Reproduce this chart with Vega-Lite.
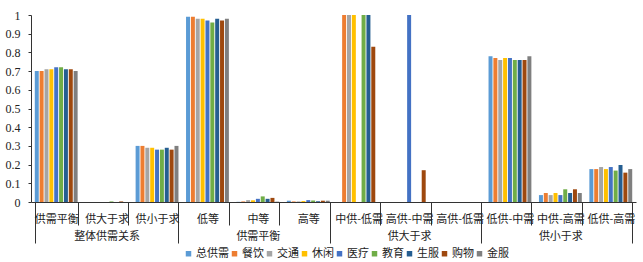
{
  "$schema": "https://vega.github.io/schema/vega-lite/v6.json",
  "width": 605,
  "height": 187,
  "autosize": {"type": "none"},
  "padding": {"left": 31, "top": 15, "right": 7, "bottom": 60},
  "config": {
    "view": {"stroke": null},
    "font": "Noto Sans CJK SC",
    "axis": {"domainColor": "#333", "tickColor": "#333", "labelColor": "#222", "grid": false, "title": null}
  },
  "data": {"values": [
    {"cat": "供需平衡", "s": "总供需", "v": 0.70}, {"cat": "供需平衡", "s": "餐饮", "v": 0.70}, {"cat": "供需平衡", "s": "交通", "v": 0.71}, {"cat": "供需平衡", "s": "休闲", "v": 0.71}, {"cat": "供需平衡", "s": "医疗", "v": 0.72}, {"cat": "供需平衡", "s": "教育", "v": 0.72}, {"cat": "供需平衡", "s": "生服", "v": 0.71}, {"cat": "供需平衡", "s": "购物", "v": 0.71}, {"cat": "供需平衡", "s": "金服", "v": 0.70},
    {"cat": "供大于求", "s": "总供需", "v": 0}, {"cat": "供大于求", "s": "餐饮", "v": 0}, {"cat": "供大于求", "s": "交通", "v": 0}, {"cat": "供大于求", "s": "休闲", "v": 0}, {"cat": "供大于求", "s": "医疗", "v": 0}, {"cat": "供大于求", "s": "教育", "v": 0.003}, {"cat": "供大于求", "s": "生服", "v": 0}, {"cat": "供大于求", "s": "购物", "v": 0.003}, {"cat": "供大于求", "s": "金服", "v": 0},
    {"cat": "供小于求", "s": "总供需", "v": 0.30}, {"cat": "供小于求", "s": "餐饮", "v": 0.30}, {"cat": "供小于求", "s": "交通", "v": 0.29}, {"cat": "供小于求", "s": "休闲", "v": 0.29}, {"cat": "供小于求", "s": "医疗", "v": 0.28}, {"cat": "供小于求", "s": "教育", "v": 0.28}, {"cat": "供小于求", "s": "生服", "v": 0.29}, {"cat": "供小于求", "s": "购物", "v": 0.28}, {"cat": "供小于求", "s": "金服", "v": 0.30},
    {"cat": "低等", "s": "总供需", "v": 0.99}, {"cat": "低等", "s": "餐饮", "v": 0.99}, {"cat": "低等", "s": "交通", "v": 0.98}, {"cat": "低等", "s": "休闲", "v": 0.98}, {"cat": "低等", "s": "医疗", "v": 0.97}, {"cat": "低等", "s": "教育", "v": 0.96}, {"cat": "低等", "s": "生服", "v": 0.98}, {"cat": "低等", "s": "购物", "v": 0.97}, {"cat": "低等", "s": "金服", "v": 0.98},
    {"cat": "中等", "s": "总供需", "v": 0.001}, {"cat": "中等", "s": "餐饮", "v": 0.003}, {"cat": "中等", "s": "交通", "v": 0.01}, {"cat": "中等", "s": "休闲", "v": 0.009}, {"cat": "中等", "s": "医疗", "v": 0.017}, {"cat": "中等", "s": "教育", "v": 0.03}, {"cat": "中等", "s": "生服", "v": 0.017}, {"cat": "中等", "s": "购物", "v": 0.022}, {"cat": "中等", "s": "金服", "v": 0.002},
    {"cat": "高等", "s": "总供需", "v": 0.007}, {"cat": "高等", "s": "餐饮", "v": 0.003}, {"cat": "高等", "s": "交通", "v": 0.003}, {"cat": "高等", "s": "休闲", "v": 0.005}, {"cat": "高等", "s": "医疗", "v": 0.01}, {"cat": "高等", "s": "教育", "v": 0.008}, {"cat": "高等", "s": "生服", "v": 0.004}, {"cat": "高等", "s": "购物", "v": 0.007}, {"cat": "高等", "s": "金服", "v": 0.007},
    {"cat": "中供-低需", "s": "总供需", "v": 0}, {"cat": "中供-低需", "s": "餐饮", "v": 1}, {"cat": "中供-低需", "s": "交通", "v": 1}, {"cat": "中供-低需", "s": "休闲", "v": 1}, {"cat": "中供-低需", "s": "医疗", "v": 0}, {"cat": "中供-低需", "s": "教育", "v": 1}, {"cat": "中供-低需", "s": "生服", "v": 1}, {"cat": "中供-低需", "s": "购物", "v": 0.83}, {"cat": "中供-低需", "s": "金服", "v": 0},
    {"cat": "高供-中需", "s": "总供需", "v": 0}, {"cat": "高供-中需", "s": "餐饮", "v": 0}, {"cat": "高供-中需", "s": "交通", "v": 0}, {"cat": "高供-中需", "s": "休闲", "v": 0}, {"cat": "高供-中需", "s": "医疗", "v": 1}, {"cat": "高供-中需", "s": "教育", "v": 0}, {"cat": "高供-中需", "s": "生服", "v": 0}, {"cat": "高供-中需", "s": "购物", "v": 0.17}, {"cat": "高供-中需", "s": "金服", "v": 0},
    {"cat": "高供-低需", "s": "总供需", "v": 0}, {"cat": "高供-低需", "s": "餐饮", "v": 0}, {"cat": "高供-低需", "s": "交通", "v": 0}, {"cat": "高供-低需", "s": "休闲", "v": 0}, {"cat": "高供-低需", "s": "医疗", "v": 0}, {"cat": "高供-低需", "s": "教育", "v": 0}, {"cat": "高供-低需", "s": "生服", "v": 0}, {"cat": "高供-低需", "s": "购物", "v": 0}, {"cat": "高供-低需", "s": "金服", "v": 0},
    {"cat": "低供-中需", "s": "总供需", "v": 0.78}, {"cat": "低供-中需", "s": "餐饮", "v": 0.77}, {"cat": "低供-中需", "s": "交通", "v": 0.76}, {"cat": "低供-中需", "s": "休闲", "v": 0.77}, {"cat": "低供-中需", "s": "医疗", "v": 0.77}, {"cat": "低供-中需", "s": "教育", "v": 0.76}, {"cat": "低供-中需", "s": "生服", "v": 0.76}, {"cat": "低供-中需", "s": "购物", "v": 0.76}, {"cat": "低供-中需", "s": "金服", "v": 0.78},
    {"cat": "中供-高需", "s": "总供需", "v": 0.037}, {"cat": "中供-高需", "s": "餐饮", "v": 0.048}, {"cat": "中供-高需", "s": "交通", "v": 0.037}, {"cat": "中供-高需", "s": "休闲", "v": 0.048}, {"cat": "中供-高需", "s": "医疗", "v": 0.037}, {"cat": "中供-高需", "s": "教育", "v": 0.068}, {"cat": "中供-高需", "s": "生服", "v": 0.048}, {"cat": "中供-高需", "s": "购物", "v": 0.068}, {"cat": "中供-高需", "s": "金服", "v": 0.048},
    {"cat": "低供-高需", "s": "总供需", "v": 0.176}, {"cat": "低供-高需", "s": "餐饮", "v": 0.176}, {"cat": "低供-高需", "s": "交通", "v": 0.187}, {"cat": "低供-高需", "s": "休闲", "v": 0.176}, {"cat": "低供-高需", "s": "医疗", "v": 0.187}, {"cat": "低供-高需", "s": "教育", "v": 0.168}, {"cat": "低供-高需", "s": "生服", "v": 0.198}, {"cat": "低供-高需", "s": "购物", "v": 0.157}, {"cat": "低供-高需", "s": "金服", "v": 0.176}
  ]},
  "mark": {"type": "bar"},
  "encoding": {
    "x": {
      "field": "cat", "type": "nominal",
      "sort": ["供需平衡", "供大于求", "供小于求", "低等", "中等", "高等", "中供-低需", "高供-中需", "高供-低需", "低供-中需", "中供-高需", "低供-高需"],
      "scale": {"paddingInner": 0.15, "paddingOuter": 0.075},
      "axis": {
        "labelAngle": 0,
        "labelFontSize": 11,
        "labelColor": "#222",
        "labelLineHeight": 17,
        "labelBaseline": "top",
        "labelOverlap": false,
        "labelBound": false,
        "tickBand": "extent",
        "tickSize": {"condition": {"test": "datum.index < 0 || indexof(['供小于求','高等','高供-低需','低供-高需'], datum.value) >= 0", "value": 41}, "value": 23},
        "labelPadding": {"condition": {"test": "indexof(['供小于求','高等','高供-低需','低供-高需'], datum.value) >= 0", "value": -30}, "value": -12},
        "labelExpr": "datum.value == '供大于求' ? ['供大于求', '整体供需关系'] : datum.value == '中等' ? ['中等', '供需平衡'] : datum.value == '高供-中需' ? ['高供-中需', '供大于求'] : datum.value == '中供-高需' ? ['中供-高需', '供小于求'] : datum.value"
      }
    },
    "xOffset": {
      "field": "s", "type": "nominal",
      "sort": ["总供需", "餐饮", "交通", "休闲", "医疗", "教育", "生服", "购物", "金服"],
      "scale": {"paddingInner": 0.18}
    },
    "y": {
      "field": "v", "type": "quantitative",
      "scale": {"domain": [0, 1], "nice": false},
      "axis": {"tickCount": 10, "format": "~g", "tickSize": 3, "labelPadding": 8, "labelFont": "Liberation Serif", "labelFontSize": 12, "labelColor": "#222"}
    },
    "color": {
      "field": "s", "type": "nominal",
      "sort": ["总供需", "餐饮", "交通", "休闲", "医疗", "教育", "生服", "购物", "金服"],
      "scale": {"domain": ["总供需", "餐饮", "交通", "休闲", "医疗", "教育", "生服", "购物", "金服"], "range": ["#5B9BD5", "#ED7D31", "#A5A5A5", "#FFC000", "#4472C4", "#70AD47", "#255E91", "#9E480E", "#7F7F7F"]},
      "legend": {
        "title": null, "orient": "none", "legendX": 152, "legendY": 233, "direction": "horizontal",
        "symbolType": "square", "symbolSize": 30, "symbolStrokeWidth": 0, "padding": 0,
        "labelFontSize": 11, "labelColor": "#222", "labelOffset": 2, "columnPadding": 0
      }
    }
  }
}
